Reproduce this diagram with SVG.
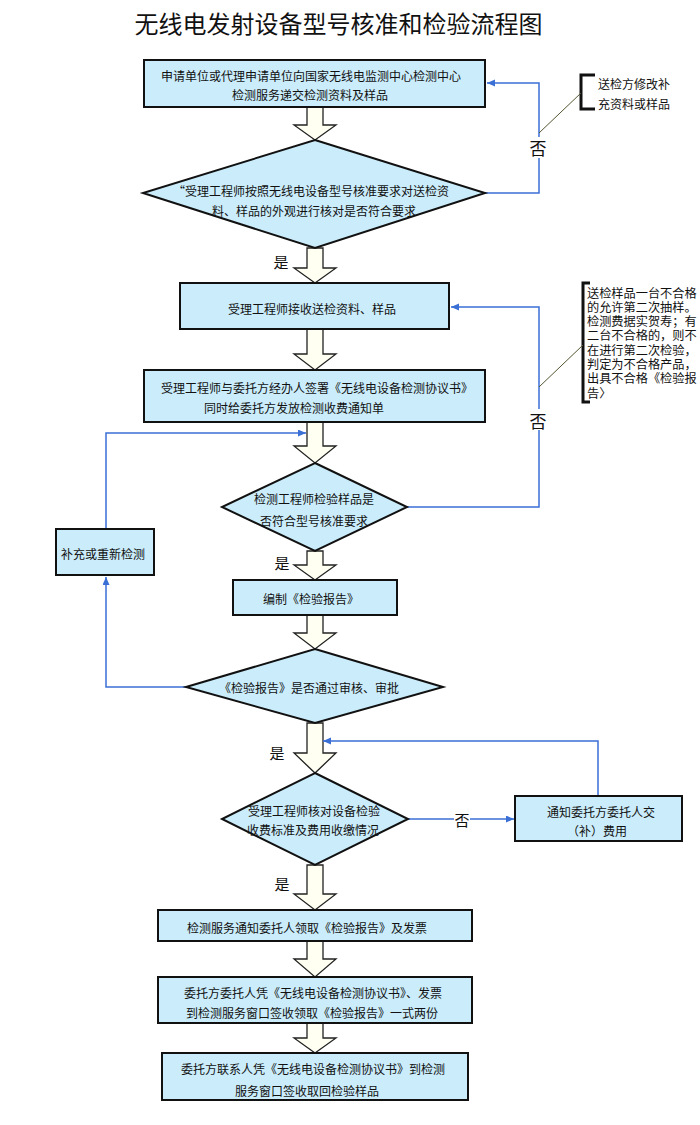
<svg xmlns="http://www.w3.org/2000/svg" width="700" height="1125" viewBox="0 0 700 1125">
<defs>
<style>
.box{fill:#cbedfb;stroke:#111;stroke-width:2}
.dia{fill:#cbedfb;stroke:#111;stroke-width:2}
.blk{fill:#fffff2;stroke:#222;stroke-width:1.3;stroke-linejoin:miter}
.fb{fill:none;stroke:#3a6fd6;stroke-width:1.5}
.t{font-family:"Noto Sans CJK SC","Liberation Sans",sans-serif;font-size:12px;fill:#111;text-anchor:middle;dominant-baseline:central}
.ts{font-family:"Noto Sans CJK SC","Liberation Sans",sans-serif;font-size:12px;fill:#111;text-anchor:start;dominant-baseline:central}
.lab{font-family:"Noto Sans CJK SC","Liberation Sans",sans-serif;font-size:15px;fill:#111;text-anchor:middle;dominant-baseline:central}
.note{font-family:"Noto Sans CJK SC","Liberation Sans",sans-serif;font-size:12.2px;fill:#111;text-anchor:start}
.brk{fill:none;stroke:#111;stroke-width:3}
.lead{fill:none;stroke:#555533;stroke-width:1}
</style>
<marker id="ah" markerWidth="9" markerHeight="8" refX="8" refY="3.5" orient="auto" markerUnits="userSpaceOnUse">
<path d="M0,0 L8,3.5 L0,7 z" fill="#3a6fd6"/>
</marker>
</defs>
<rect width="700" height="1125" fill="#fff"/>
<text x="338.5" y="22" style="font-family:'Noto Sans CJK SC','Liberation Sans',sans-serif;font-size:24px;fill:#111;text-anchor:middle;dominant-baseline:central">无线电发射设备型号核准和检验流程图</text>

<g id="connectors">
<polygon class="blk" points="307,107 323,107 323,125 336,125 315,140 294,125 307,125"/>
<polygon class="blk" points="307,248 323,248 323,268 336,268 315,283 294,268 307,268"/>
<polygon class="blk" points="307,329 323,329 323,354 336,354 315,370 294,354 307,354"/>
<polygon class="blk" points="307,422 323,422 323,446 336,446 315,463 294,446 307,446"/>
<polygon class="blk" points="307,551 323,551 323,565 336,565 315,580 294,565 307,565"/>
<polygon class="blk" points="307,615 323,615 323,633 336,633 315,649 294,633 307,633"/>
<polygon class="blk" points="307,723 323,723 323,753 336,753 315,773 294,753 307,753"/>
<polygon class="blk" points="307,865 323,865 323,894 336,894 315,910 294,894 307,894"/>
<polygon class="blk" points="307,941 323,941 323,959 336,959 315,977 294,959 307,959"/>
<polygon class="blk" points="307,1023 323,1023 323,1038 336,1038 315,1053 294,1038 307,1038"/>

<polyline class="fb" points="485,193 539,193 539,83 487,83" marker-end="url(#ah)"/>
<polyline class="fb" points="407,507 539,507 539,307 451,307" marker-end="url(#ah)"/>
<polyline class="fb" points="187,687 106,687 106,577" marker-end="url(#ah)"/>
<polyline class="fb" points="106,529 106,433 306,433" marker-end="url(#ah)"/>
<line class="fb" x1="408" y1="819" x2="514" y2="819" marker-end="url(#ah)"/>
<polyline class="fb" points="598,796 598,741 323,741" marker-end="url(#ah)"/>

<rect x="529" y="137" width="19" height="21" fill="#fff"/>
<text class="lab" x="538" y="147" style="font-size:17px">否</text>
<rect x="529" y="409" width="19" height="21" fill="#fff"/>
<text class="lab" x="538" y="420" style="font-size:17px">否</text>
<rect x="454" y="810" width="16" height="18" fill="#fff"/>
<text class="lab" x="462" y="819">否</text>

<text class="lab" x="281" y="261">是</text>
<text class="lab" x="282" y="562">是</text>
<text class="lab" x="277" y="752">是</text>
<text class="lab" x="282" y="883">是</text>

<path class="brk" d="M595,75 L581,75 L581,109 L595,109"/>
<line class="lead" x1="581" y1="93" x2="539" y2="133"/>
<path class="brk" d="M590,283 L583,283 L583,402 L590,402"/>
<line class="lead" x1="583" y1="345" x2="539" y2="387"/>
</g>

<g id="note1">
<text class="ts" x="598" y="83">送检方修改补</text>
<text class="ts" x="598" y="103">充资料或样品</text>
</g>
<g id="note2">
<text class="note" x="587" y="297.5"><tspan x="587">送检样品一台不合格</tspan><tspan x="587" dy="14.3">的允许第二次抽样。</tspan><tspan x="587" dy="14.3">检测费据实贺寿；有</tspan><tspan x="587" dy="14.3">二台不合格的，则不</tspan><tspan x="587" dy="14.3">在进行第二次检验，</tspan><tspan x="587" dy="14.3">判定为不合格产品，</tspan><tspan x="587" dy="14.3">出具不合格《检验报</tspan><tspan x="587" dy="14.3">告〉</tspan></text>
</g>

<g id="n1">
<rect class="box" x="144" y="60" width="341" height="47"/>
<text class="t" x="311" y="75">申请单位或代理申请单位向国家无线电监测中心检测中心</text>
<text class="t" x="310" y="94">检测服务递交检测资料及样品</text>
</g>
<g id="d1">
<polygon class="dia" points="315,140 485,193 315,248 143,193"/>
<text class="t" x="311" y="190">“受理工程师按照无线电设备型号核准要求对送检资</text>
<text class="t" x="314" y="210">料、样品的外观进行核对是否符合要求</text>
</g>
<g id="n2">
<rect class="box" x="180" y="283" width="269" height="46"/>
<text class="t" x="312" y="308">受理工程师接收送检资料、样品</text>
</g>
<g id="n3">
<rect class="box" x="144" y="370" width="341" height="52"/>
<text class="t" x="317" y="387">受理工程师与委托方经办人签署《无线电设备检测协议书》</text>
<text class="t" x="294" y="407">同时给委托方发放检测收费通知单</text>
</g>
<g id="d2">
<polygon class="dia" points="315,463 407,507 315,551 222,507"/>
<text class="t" x="314" y="498">检测工程师检验样品是</text>
<text class="t" x="314" y="520">否符合型号核准要求</text>
</g>
<g id="n4">
<rect class="box" x="56" y="529" width="98" height="46"/>
<text class="t" x="103" y="553">补充或重新检测</text>
</g>
<g id="n5">
<rect class="box" x="233" y="580" width="164" height="35"/>
<text class="t" x="311" y="598">编制《检验报告》</text>
</g>
<g id="d3">
<polygon class="dia" points="315,649 443,687 315,723 186,687"/>
<text class="t" x="309" y="687">《检验报告》是否通过审核、审批</text>
</g>
<g id="d4">
<polygon class="dia" points="315,773 408,819 315,865 222,819"/>
<text class="t" x="314" y="810">受理工程师核对设备检验</text>
<text class="t" x="313" y="829">收费标准及费用收缴情况</text>
</g>
<g id="n6">
<rect class="box" x="515" y="796" width="167" height="45"/>
<text class="t" x="601" y="811">通知委托方委托人交</text>
<text class="t" x="597" y="830">（补）费用</text>
</g>
<g id="n7">
<rect class="box" x="158" y="910" width="314" height="31"/>
<text class="t" x="307" y="927">检测服务通知委托人领取《检验报告》及发票</text>
</g>
<g id="n8">
<rect class="box" x="158" y="977" width="314" height="46"/>
<text class="t" x="313" y="992">委托方委托人凭《无线电设备检测协议书》、发票</text>
<text class="t" x="312" y="1012">到检测服务窗口签收领取《检验报告》一式两份</text>
</g>
<g id="n9">
<rect class="box" x="162" y="1053" width="306" height="47"/>
<text class="t" x="313" y="1068">委托方联系人凭《无线电设备检测协议书》到检测</text>
<text class="t" x="307" y="1090">服务窗口签收取回检验样品</text>
</g>
</svg>
